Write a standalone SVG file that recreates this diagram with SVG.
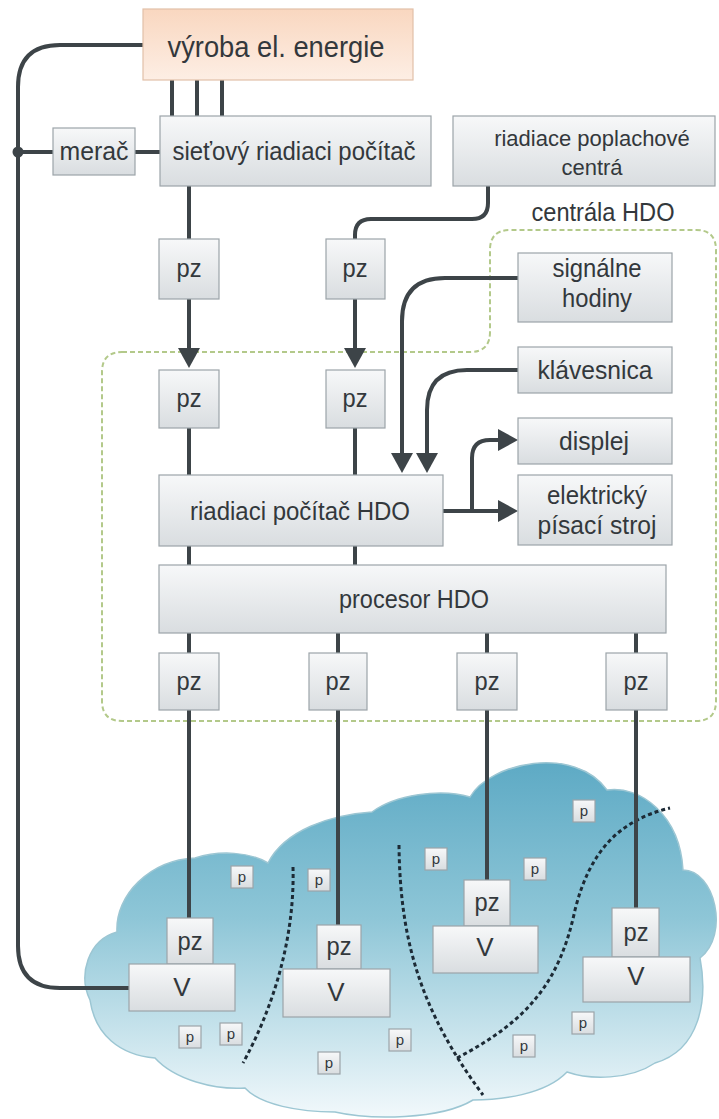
<svg xmlns="http://www.w3.org/2000/svg" width="719" height="1119" viewBox="0 0 719 1119">
  <defs>
    <linearGradient id="gBox" x1="0" y1="0" x2="0" y2="1">
      <stop offset="0" stop-color="#f7f8f9"/>
      <stop offset="1" stop-color="#d9dde0"/>
    </linearGradient>
    <linearGradient id="gTitle" x1="0" y1="0" x2="0" y2="1">
      <stop offset="0" stop-color="#f9d7c0"/>
      <stop offset="1" stop-color="#fdeee4"/>
    </linearGradient>
    <linearGradient id="gCloud" gradientUnits="userSpaceOnUse" x1="0" y1="757" x2="0" y2="1115">
      <stop offset="0" stop-color="#5ca9c4"/>
      <stop offset="0.45" stop-color="#8ec6d7"/>
      <stop offset="0.8" stop-color="#cde6ee"/>
      <stop offset="1" stop-color="#f1f8fb"/>
    </linearGradient>
    <style>
      .box { fill: url(#gBox); stroke: #9ca4a9; stroke-width: 1.2; }
      .title { fill: url(#gTitle); stroke: #e2c0a8; stroke-width: 1.2; }
      .t { font-family: "Liberation Sans", Arial, sans-serif; font-size: 26px; fill: #33383c; text-anchor: middle; }
      .tm { font-family: "Liberation Sans", Arial, sans-serif; font-size: 22px; fill: #33383c; text-anchor: middle; }
      .ts { font-family: "Liberation Sans", Arial, sans-serif; font-size: 15px; fill: #33383c; text-anchor: middle; }
      .ln { fill: none; stroke: #3d4448; stroke-width: 4; }
      .ah { fill: #3d4448; }
      .zone { fill: none; stroke: #b3c98a; stroke-width: 2; stroke-dasharray: 5 3; }
      .split { fill: none; stroke: #1c2a35; stroke-width: 3; stroke-dasharray: 4 3; }
    </style>
  </defs>

  <rect width="719" height="1119" fill="#ffffff"/>

  <!-- HDO control centre boundary -->
  <path class="zone" d="M 122,352 H 470 Q 490,352 490,332 V 250 Q 490,230 510,230 H 696 Q 716,230 716,250 V 701 Q 716,721 696,721 H 122 Q 102,721 102,701 V 372 Q 102,352 122,352 Z"/>
  <text class="t" x="603" y="221" textLength="143" lengthAdjust="spacingAndGlyphs">centrála HDO</text>

  <!-- distribution network area -->
  <path id="cloud" fill="url(#gCloud)" stroke="#9cc6d3" stroke-width="1.5" d="M 90,1000 C 78,975 88,940 117,932 C 115,895 150,860 195,858 C 220,850 250,852 268,863 C 285,830 330,815 372,812 C 395,795 440,788 470,797 C 490,762 575,745 607,790 C 640,785 680,815 683,870 C 715,870 730,935 700,958 C 708,1000 700,1050 655,1063 C 630,1080 590,1080 567,1072 C 545,1095 500,1100 473,1100 C 440,1120 370,1120 335,1112 C 300,1112 260,1105 245,1088 C 215,1090 175,1080 155,1058 C 120,1055 95,1035 90,1000 Z"/>
  <g id="zone-borders">
    <path class="split" d="M 293,867 C 295,940 272,1010 243,1063"/>
    <path class="split" d="M 399,845 C 400,940 420,1010 483,1095"/>
    <path class="split" d="M 457,1058 C 530,1020 560,980 575,910 C 590,850 620,820 670,808"/>
  </g>

  <!-- connectors -->
  <g id="connectors">
    <path class="ln" d="M 172,80 V 116 M 197,80 V 116 M 222,80 V 116"/>
    <path class="ln" d="M 143,45 H 60 Q 18,45 18,87 V 946 Q 18,988 60,988 H 129"/>
    <path class="ln" d="M 18,152 H 53 M 135,152 H 160"/>
    <circle cx="18" cy="152" r="5.5" class="ah"/>
    <path class="ln" d="M 189,186 V 239 M 189,299 V 350"/>
    <polygon class="ah" points="178,348 200,348 189,368"/>
    <path class="ln" d="M 488,186 V 203 Q 488,219 472,219 H 371 Q 355,219 355,235 V 239 M 355,299 V 350"/>
    <polygon class="ah" points="344,348 366,348 355,368"/>
    <path class="ln" d="M 189,428 V 475 M 355,428 V 475 M 189,546 V 565 M 355,546 V 565"/>
    <path class="ln" d="M 518,278 H 445 Q 402,278 402,321 V 455"/>
    <polygon class="ah" points="391,453 413,453 402,473"/>
    <path class="ln" d="M 518,370 H 467 Q 427,370 427,410 V 455"/>
    <polygon class="ah" points="416,453 438,453 427,473"/>
    <path class="ln" d="M 443,511 H 500 M 472,511 V 458 Q 472,440 490,440 H 500"/>
    <polygon class="ah" points="498,500 498,522 518,511"/>
    <polygon class="ah" points="498,429 498,451 518,440"/>
    <path class="ln" d="M 189,633 V 653 M 338,633 V 653 M 487,633 V 653 M 636,633 V 653"/>
    <path class="ln" d="M 189,710 V 918 M 338,710 V 925 M 487,710 V 880 M 636,710 V 908"/>
  </g>

  <!-- receivers in the network -->
  <g id="p-nodes">
    <rect class="box" x="231" y="866" width="22" height="22"/><text class="ts" x="242" y="882">p</text>
    <rect class="box" x="308" y="869" width="22" height="22"/><text class="ts" x="319" y="885">p</text>
    <rect class="box" x="425" y="848" width="22" height="22"/><text class="ts" x="436" y="864">p</text>
    <rect class="box" x="524" y="858" width="22" height="22"/><text class="ts" x="535" y="874">p</text>
    <rect class="box" x="573" y="800" width="22" height="22"/><text class="ts" x="584" y="816">p</text>
    <rect class="box" x="179" y="1026" width="22" height="22"/><text class="ts" x="190" y="1042">p</text>
    <rect class="box" x="220" y="1023" width="22" height="22"/><text class="ts" x="231" y="1039">p</text>
    <rect class="box" x="318" y="1052" width="22" height="22"/><text class="ts" x="329" y="1068">p</text>
    <rect class="box" x="389" y="1029" width="22" height="22"/><text class="ts" x="400" y="1045">p</text>
    <rect class="box" x="513" y="1035" width="22" height="22"/><text class="ts" x="524" y="1051">p</text>
    <rect class="box" x="572" y="1012" width="22" height="22"/><text class="ts" x="583" y="1028">p</text>
  </g>

  <g id="station-1">
    <rect class="box" x="167" y="918" width="46" height="46"/><text class="t" x="190" y="950" textLength="25" lengthAdjust="spacingAndGlyphs">pz</text>
    <rect class="box" x="129" y="964" width="106" height="47"/><text class="t" x="182" y="996">V</text>
  </g>
  <g id="station-2">
    <rect class="box" x="317" y="925" width="44" height="44"/><text class="t" x="339" y="955" textLength="25" lengthAdjust="spacingAndGlyphs">pz</text>
    <rect class="box" x="283" y="969" width="107" height="48"/><text class="t" x="336" y="1001">V</text>
  </g>
  <g id="station-3">
    <rect class="box" x="464" y="880" width="46" height="46"/><text class="t" x="487" y="911" textLength="25" lengthAdjust="spacingAndGlyphs">pz</text>
    <rect class="box" x="433" y="926" width="105" height="47"/><text class="t" x="485" y="956">V</text>
  </g>
  <g id="station-4">
    <rect class="box" x="612" y="908" width="47" height="49"/><text class="t" x="636" y="941" textLength="25" lengthAdjust="spacingAndGlyphs">pz</text>
    <rect class="box" x="583" y="957" width="107" height="45"/><text class="t" x="636" y="985">V</text>
  </g>

  <!-- upper nodes -->
  <g id="vyroba">
    <rect class="title" x="143" y="9" width="270" height="71"/>
    <text class="t" x="276" y="57" style="font-size:30px" textLength="217" lengthAdjust="spacingAndGlyphs">výroba el. energie</text>
  </g>
  <g id="sietovy-pocitac">
    <rect class="box" x="160" y="116" width="271" height="70"/>
    <text class="t" x="294" y="160" textLength="243" lengthAdjust="spacingAndGlyphs">sieťový riadiaci počítač</text>
  </g>
  <g id="merac">
    <rect class="box" x="53" y="128" width="82" height="47"/>
    <text class="t" x="94" y="160" textLength="69" lengthAdjust="spacingAndGlyphs">merač</text>
  </g>
  <g id="poplachove-centra">
    <rect class="box" x="453" y="116" width="262" height="70"/>
    <text class="tm" x="592" y="146">riadiace poplachové</text>
    <text class="tm" x="592" y="175">centrá</text>
  </g>
  <g id="pz-1a"><rect class="box" x="159" y="239" width="60" height="60"/><text class="t" x="189" y="277" textLength="25" lengthAdjust="spacingAndGlyphs">pz</text></g>
  <g id="pz-1b"><rect class="box" x="326" y="239" width="59" height="60"/><text class="t" x="355" y="277" textLength="25" lengthAdjust="spacingAndGlyphs">pz</text></g>
  <g id="pz-2a"><rect class="box" x="159" y="370" width="60" height="58"/><text class="t" x="189" y="407" textLength="25" lengthAdjust="spacingAndGlyphs">pz</text></g>
  <g id="pz-2b"><rect class="box" x="326" y="370" width="59" height="58"/><text class="t" x="355" y="407" textLength="25" lengthAdjust="spacingAndGlyphs">pz</text></g>
  <g id="signalne-hodiny">
    <rect class="box" x="518" y="253" width="154" height="69"/>
    <text class="t" x="597" y="277" textLength="89" lengthAdjust="spacingAndGlyphs">signálne</text>
    <text class="t" x="597" y="307" textLength="70" lengthAdjust="spacingAndGlyphs">hodiny</text>
  </g>
  <g id="klavesnica">
    <rect class="box" x="518" y="347" width="154" height="46"/>
    <text class="t" x="595" y="379" textLength="115" lengthAdjust="spacingAndGlyphs">klávesnica</text>
  </g>
  <g id="displej">
    <rect class="box" x="518" y="418" width="154" height="46"/>
    <text class="t" x="594" y="450" textLength="70" lengthAdjust="spacingAndGlyphs">displej</text>
  </g>
  <g id="pisaci-stroj">
    <rect class="box" x="518" y="475" width="154" height="70"/>
    <text class="t" x="597" y="504" textLength="100" lengthAdjust="spacingAndGlyphs">elektrický</text>
    <text class="t" x="597" y="534" textLength="119" lengthAdjust="spacingAndGlyphs">písací stroj</text>
  </g>
  <g id="riadiaci-pocitac-hdo">
    <rect class="box" x="159" y="475" width="284" height="71"/>
    <text class="t" x="300" y="520" textLength="220" lengthAdjust="spacingAndGlyphs">riadiaci počítač HDO</text>
  </g>
  <g id="procesor-hdo">
    <rect class="box" x="159" y="565" width="507" height="68"/>
    <text class="t" x="414" y="608" textLength="150" lengthAdjust="spacingAndGlyphs">procesor HDO</text>
  </g>
  <g id="pz-3a"><rect class="box" x="159" y="653" width="60" height="57"/><text class="t" x="189" y="690" textLength="25" lengthAdjust="spacingAndGlyphs">pz</text></g>
  <g id="pz-3b"><rect class="box" x="309" y="653" width="58" height="57"/><text class="t" x="338" y="690" textLength="25" lengthAdjust="spacingAndGlyphs">pz</text></g>
  <g id="pz-3c"><rect class="box" x="457" y="653" width="60" height="57"/><text class="t" x="487" y="690" textLength="25" lengthAdjust="spacingAndGlyphs">pz</text></g>
  <g id="pz-3d"><rect class="box" x="606" y="653" width="61" height="57"/><text class="t" x="636" y="690" textLength="25" lengthAdjust="spacingAndGlyphs">pz</text></g>
</svg>
